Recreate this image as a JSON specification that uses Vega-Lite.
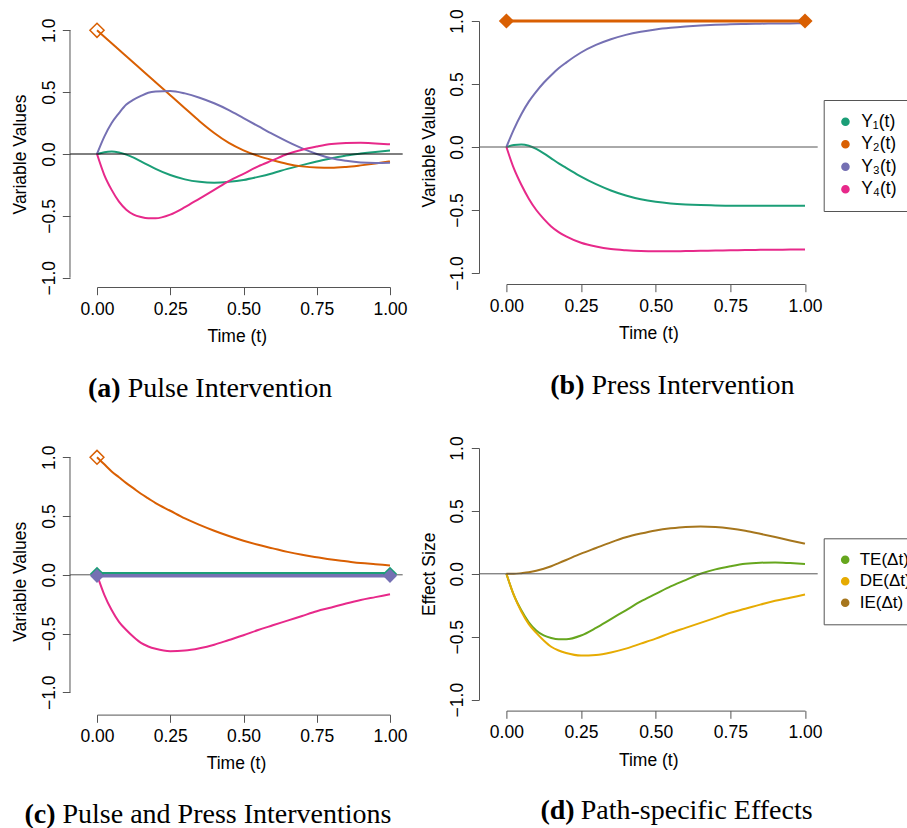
{
"$schema": "https://vega.github.io/schema/vega-lite/v6.json",
"padding": {"left": 11, "top": 8, "right": 0, "bottom": 0},
"background": "white",
"datasets": {
"captions": [
{"p": "a", "tag": "(a)", "cap": "Pulse Intervention"},
{"p": "b", "tag": "(b)", "cap": "Press Intervention"},
{"p": "c", "tag": "(c)", "cap": "Pulse and Press Interventions"},
{"p": "d", "tag": "(d)", "cap": "Path-specific Effects"}
],
"yser": [
{"p": "a", "t": 0, "Y1": 0, "Y2": 1, "Y3": 0, "Y4": 0},
{"p": "a", "t": 0.025, "Y1": 0.015, "Y2": 0.947, "Y3": 0.14, "Y4": -0.17},
{"p": "a", "t": 0.05, "Y1": 0.02, "Y2": 0.895, "Y3": 0.25, "Y4": -0.29},
{"p": "a", "t": 0.075, "Y1": 0.012, "Y2": 0.842, "Y3": 0.33, "Y4": -0.385},
{"p": "a", "t": 0.1, "Y1": -0.005, "Y2": 0.79, "Y3": 0.4, "Y4": -0.45},
{"p": "a", "t": 0.125, "Y1": -0.03, "Y2": 0.737, "Y3": 0.44, "Y4": -0.49},
{"p": "a", "t": 0.15, "Y1": -0.06, "Y2": 0.685, "Y3": 0.47, "Y4": -0.51},
{"p": "a", "t": 0.175, "Y1": -0.09, "Y2": 0.632, "Y3": 0.495, "Y4": -0.52},
{"p": "a", "t": 0.2, "Y1": -0.12, "Y2": 0.58, "Y3": 0.505, "Y4": -0.52},
{"p": "a", "t": 0.25, "Y1": -0.17, "Y2": 0.475, "Y3": 0.51, "Y4": -0.49},
{"p": "a", "t": 0.3, "Y1": -0.205, "Y2": 0.37, "Y3": 0.49, "Y4": -0.43},
{"p": "a", "t": 0.35, "Y1": -0.225, "Y2": 0.265, "Y3": 0.455, "Y4": -0.36},
{"p": "a", "t": 0.4, "Y1": -0.232, "Y2": 0.17, "Y3": 0.41, "Y4": -0.29},
{"p": "a", "t": 0.45, "Y1": -0.225, "Y2": 0.09, "Y3": 0.355, "Y4": -0.22},
{"p": "a", "t": 0.5, "Y1": -0.21, "Y2": 0.03, "Y3": 0.29, "Y4": -0.16},
{"p": "a", "t": 0.55, "Y1": -0.185, "Y2": -0.015, "Y3": 0.225, "Y4": -0.1},
{"p": "a", "t": 0.6, "Y1": -0.155, "Y2": -0.05, "Y3": 0.16, "Y4": -0.05},
{"p": "a", "t": 0.65, "Y1": -0.12, "Y2": -0.08, "Y3": 0.1, "Y4": 0},
{"p": "a", "t": 0.7, "Y1": -0.09, "Y2": -0.1, "Y3": 0.045, "Y4": 0.035},
{"p": "a", "t": 0.75, "Y1": -0.06, "Y2": -0.11, "Y3": 0, "Y4": 0.06},
{"p": "a", "t": 0.8, "Y1": -0.035, "Y2": -0.112, "Y3": -0.035, "Y4": 0.08},
{"p": "a", "t": 0.85, "Y1": -0.012, "Y2": -0.105, "Y3": -0.055, "Y4": 0.088},
{"p": "a", "t": 0.9, "Y1": 0.004, "Y2": -0.092, "Y3": -0.068, "Y4": 0.09},
{"p": "a", "t": 0.95, "Y1": 0.017, "Y2": -0.077, "Y3": -0.072, "Y4": 0.085},
{"p": "a", "t": 1, "Y1": 0.028, "Y2": -0.06, "Y3": -0.07, "Y4": 0.078},
{"p": "b", "t": 0, "Y1": 0, "Y2": 1, "Y3": 0, "Y4": 0},
{"p": "b", "t": 0.025, "Y1": 0.015, "Y2": 1, "Y3": 0.14, "Y4": -0.17},
{"p": "b", "t": 0.05, "Y1": 0.02, "Y2": 1, "Y3": 0.26, "Y4": -0.3},
{"p": "b", "t": 0.075, "Y1": 0.01, "Y2": 1, "Y3": 0.36, "Y4": -0.41},
{"p": "b", "t": 0.1, "Y1": -0.015, "Y2": 1, "Y3": 0.44, "Y4": -0.5},
{"p": "b", "t": 0.125, "Y1": -0.05, "Y2": 1, "Y3": 0.51, "Y4": -0.57},
{"p": "b", "t": 0.15, "Y1": -0.09, "Y2": 1, "Y3": 0.57, "Y4": -0.63},
{"p": "b", "t": 0.175, "Y1": -0.13, "Y2": 1, "Y3": 0.625, "Y4": -0.675},
{"p": "b", "t": 0.2, "Y1": -0.165, "Y2": 1, "Y3": 0.67, "Y4": -0.71},
{"p": "b", "t": 0.25, "Y1": -0.235, "Y2": 1, "Y3": 0.75, "Y4": -0.76},
{"p": "b", "t": 0.3, "Y1": -0.295, "Y2": 1, "Y3": 0.81, "Y4": -0.79},
{"p": "b", "t": 0.35, "Y1": -0.345, "Y2": 1, "Y3": 0.855, "Y4": -0.81},
{"p": "b", "t": 0.4, "Y1": -0.385, "Y2": 1, "Y3": 0.89, "Y4": -0.82},
{"p": "b", "t": 0.45, "Y1": -0.415, "Y2": 1, "Y3": 0.915, "Y4": -0.826},
{"p": "b", "t": 0.5, "Y1": -0.435, "Y2": 1, "Y3": 0.933, "Y4": -0.828},
{"p": "b", "t": 0.55, "Y1": -0.448, "Y2": 1, "Y3": 0.946, "Y4": -0.828},
{"p": "b", "t": 0.6, "Y1": -0.456, "Y2": 1, "Y3": 0.956, "Y4": -0.826},
{"p": "b", "t": 0.65, "Y1": -0.461, "Y2": 1, "Y3": 0.964, "Y4": -0.824},
{"p": "b", "t": 0.7, "Y1": -0.464, "Y2": 1, "Y3": 0.97, "Y4": -0.822},
{"p": "b", "t": 0.75, "Y1": -0.466, "Y2": 1, "Y3": 0.974, "Y4": -0.82},
{"p": "b", "t": 0.8, "Y1": -0.467, "Y2": 1, "Y3": 0.977, "Y4": -0.818},
{"p": "b", "t": 0.85, "Y1": -0.467, "Y2": 1, "Y3": 0.979, "Y4": -0.816},
{"p": "b", "t": 0.9, "Y1": -0.467, "Y2": 1, "Y3": 0.98, "Y4": -0.815},
{"p": "b", "t": 0.95, "Y1": -0.467, "Y2": 1, "Y3": 0.981, "Y4": -0.814},
{"p": "b", "t": 1, "Y1": -0.467, "Y2": 1, "Y3": 0.982, "Y4": -0.813},
{"p": "c", "t": 0, "Y1": 0.008, "Y2": 1, "Y3": -0.009, "Y4": 0},
{"p": "c", "t": 0.025, "Y1": null, "Y2": 0.94, "Y3": null, "Y4": -0.17},
{"p": "c", "t": 0.05, "Y1": null, "Y2": 0.88, "Y3": null, "Y4": -0.3},
{"p": "c", "t": 0.075, "Y1": null, "Y2": 0.83, "Y3": null, "Y4": -0.4},
{"p": "c", "t": 0.1, "Y1": null, "Y2": 0.78, "Y3": null, "Y4": -0.47},
{"p": "c", "t": 0.125, "Y1": null, "Y2": 0.735, "Y3": null, "Y4": -0.53},
{"p": "c", "t": 0.15, "Y1": null, "Y2": 0.69, "Y3": null, "Y4": -0.58},
{"p": "c", "t": 0.175, "Y1": null, "Y2": 0.65, "Y3": null, "Y4": -0.61},
{"p": "c", "t": 0.2, "Y1": null, "Y2": 0.61, "Y3": null, "Y4": -0.63},
{"p": "c", "t": 0.25, "Y1": null, "Y2": 0.545, "Y3": null, "Y4": -0.65},
{"p": "c", "t": 0.3, "Y1": null, "Y2": 0.48, "Y3": null, "Y4": -0.645},
{"p": "c", "t": 0.35, "Y1": null, "Y2": 0.425, "Y3": null, "Y4": -0.625},
{"p": "c", "t": 0.4, "Y1": null, "Y2": 0.375, "Y3": null, "Y4": -0.595},
{"p": "c", "t": 0.45, "Y1": null, "Y2": 0.33, "Y3": null, "Y4": -0.555},
{"p": "c", "t": 0.5, "Y1": null, "Y2": 0.29, "Y3": null, "Y4": -0.515},
{"p": "c", "t": 0.55, "Y1": null, "Y2": 0.255, "Y3": null, "Y4": -0.47},
{"p": "c", "t": 0.6, "Y1": null, "Y2": 0.225, "Y3": null, "Y4": -0.43},
{"p": "c", "t": 0.65, "Y1": null, "Y2": 0.195, "Y3": null, "Y4": -0.39},
{"p": "c", "t": 0.7, "Y1": null, "Y2": 0.17, "Y3": null, "Y4": -0.35},
{"p": "c", "t": 0.75, "Y1": null, "Y2": 0.15, "Y3": null, "Y4": -0.31},
{"p": "c", "t": 0.8, "Y1": null, "Y2": 0.13, "Y3": null, "Y4": -0.278},
{"p": "c", "t": 0.85, "Y1": null, "Y2": 0.115, "Y3": null, "Y4": -0.245},
{"p": "c", "t": 0.9, "Y1": null, "Y2": 0.1, "Y3": null, "Y4": -0.215},
{"p": "c", "t": 0.95, "Y1": null, "Y2": 0.09, "Y3": null, "Y4": -0.19},
{"p": "c", "t": 1, "Y1": 0.008, "Y2": 0.08, "Y3": -0.009, "Y4": -0.165}
],
"effects": [
{"t": 0, "TE": 0, "DE": 0, "IE": 0},
{"t": 0.025, "TE": -0.17, "DE": -0.17, "IE": 0},
{"t": 0.05, "TE": -0.29, "DE": -0.3, "IE": 0.005},
{"t": 0.075, "TE": -0.385, "DE": -0.4, "IE": 0.012},
{"t": 0.1, "TE": -0.45, "DE": -0.47, "IE": 0.025},
{"t": 0.125, "TE": -0.49, "DE": -0.53, "IE": 0.04},
{"t": 0.15, "TE": -0.51, "DE": -0.58, "IE": 0.06},
{"t": 0.175, "TE": -0.52, "DE": -0.61, "IE": 0.085},
{"t": 0.2, "TE": -0.52, "DE": -0.63, "IE": 0.11},
{"t": 0.25, "TE": -0.49, "DE": -0.65, "IE": 0.16},
{"t": 0.3, "TE": -0.43, "DE": -0.645, "IE": 0.205},
{"t": 0.35, "TE": -0.36, "DE": -0.625, "IE": 0.25},
{"t": 0.4, "TE": -0.29, "DE": -0.595, "IE": 0.29},
{"t": 0.45, "TE": -0.22, "DE": -0.555, "IE": 0.32},
{"t": 0.5, "TE": -0.16, "DE": -0.515, "IE": 0.345},
{"t": 0.55, "TE": -0.1, "DE": -0.47, "IE": 0.362},
{"t": 0.6, "TE": -0.05, "DE": -0.43, "IE": 0.373},
{"t": 0.65, "TE": 0, "DE": -0.39, "IE": 0.376},
{"t": 0.7, "TE": 0.035, "DE": -0.35, "IE": 0.372},
{"t": 0.75, "TE": 0.06, "DE": -0.31, "IE": 0.36},
{"t": 0.8, "TE": 0.08, "DE": -0.278, "IE": 0.342},
{"t": 0.85, "TE": 0.088, "DE": -0.245, "IE": 0.318},
{"t": 0.9, "TE": 0.09, "DE": -0.215, "IE": 0.292},
{"t": 0.95, "TE": 0.085, "DE": -0.19, "IE": 0.265},
{"t": 1, "TE": 0.078, "DE": -0.165, "IE": 0.24}
],
"markers": [
{"p": "a", "s": "Y2", "t": 0, "v": 1, "k": "open"},
{"p": "b", "s": "Y2", "t": 0, "v": 1, "k": "filled"},
{"p": "b", "s": "Y2", "t": 1, "v": 1, "k": "filled"},
{"p": "c", "s": "Y2", "t": 0, "v": 1, "k": "open"},
{"p": "c", "s": "Y1", "t": 0, "v": 0.008, "k": "filled"},
{"p": "c", "s": "Y1", "t": 1, "v": 0.008, "k": "filled"},
{"p": "c", "s": "Y3", "t": 0, "v": -0.009, "k": "filled"},
{"p": "c", "s": "Y3", "t": 1, "v": -0.009, "k": "filled"}
]
},
"config": {
"view": {"stroke": null},
"font": "Liberation Sans",
"axis": {"grid": false, "domainColor": "#555555", "tickColor": "#555555", "tickSize": 7.7, "labelFont": "Liberation Sans", "labelFontSize": 17.5, "labelColor": "#000000", "titleFont": "Liberation Sans", "titleFontSize": 17.5, "titleFontWeight": "normal", "titleColor": "#000000"},
"legend": {"labelFont": "Liberation Sans", "labelColor": "#000000"}
},
"concat": [
{
"width": 293, "height": 256.7,
"layer": [
{"data": {"name": "yser"}, "transform": [{"filter": "datum.p == 'a'"}, {"fold": ["Y1", "Y2", "Y3", "Y4"], "as": ["s", "v"]}, {"filter": "isValid(datum.v)"}],
 "mark": {"type": "line", "strokeWidth": 2, "interpolate": "monotone"},
 "encoding": {
  "x": {"field": "t", "type": "quantitative", "scale": {"domain": [0, 1], "nice": false, "zero": false}, "axis": {"title": "Time (t)", "values": [0, 0.25, 0.5, 0.75, 1], "format": ".2f", "offset": 9.3, "labelAngle": 0, "labelAlign": "center", "labelBaseline": "alphabetic", "labelPadding": 19.6, "titleX": 139.7, "titleY": 54.5, "titleBaseline": "alphabetic"}},
  "y": {"field": "v", "type": "quantitative", "scale": {"domain": [-1, 1.0752], "nice": false, "zero": false}, "axis": {"title": "Variable Values", "values": [-1, -0.5, 0, 0.5, 1], "format": ".1f", "offset": 27, "domain": false, "labelAngle": 270, "labelAlign": "center", "labelBaseline": "alphabetic", "labelPadding": 8, "titleX": -44.3, "titleY": 133, "titleBaseline": "alphabetic"}},
  "stroke": {"field": "s", "type": "nominal", "scale": {"domain": ["Y1", "Y2", "Y3", "Y4"], "range": ["#1B9E77", "#D95F02", "#7570B3", "#E7298A"]}, "legend": null}
 }},
{"data": {"name": "captions"}, "transform": [{"filter": "datum.p == 'a'"}],
 "mark": {"type": "rule", "color": "#000000", "strokeWidth": 1}, "encoding": {"x": {"datum": -0.0922, "type": "quantitative"}, "x2": {"datum": 1.0433}, "y": {"datum": 0, "type": "quantitative"}}},
{"data": {"name": "captions"}, "transform": [{"filter": "datum.p == 'a'"}],
 "mark": {"type": "rule", "color": "#555555", "strokeWidth": 1}, "encoding": {"x": {"datum": -0.0922, "type": "quantitative"}, "y": {"datum": -1, "type": "quantitative"}, "y2": {"datum": 1}}},
{"data": {"name": "captions"}, "transform": [{"filter": "datum.p == 'a'"}],
 "mark": {"type": "text", "align": "right", "baseline": "alphabetic", "dx": -3.5, "font": "Liberation Serif", "fontSize": 28, "fontWeight": "bold", "color": "#000000"},
 "encoding": {"x": {"datum": 0.0928, "type": "quantitative"}, "y": {"datum": -1.9645, "type": "quantitative"}, "text": {"field": "tag"}}},
{"data": {"name": "captions"}, "transform": [{"filter": "datum.p == 'a'"}],
 "mark": {"type": "text", "align": "left", "baseline": "alphabetic", "dx": 3.5, "font": "Liberation Serif", "fontSize": 28, "fontWeight": "normal", "color": "#000000"},
 "encoding": {"x": {"datum": 0.0928, "type": "quantitative"}, "y": {"datum": -1.9645, "type": "quantitative"}, "text": {"field": "cap"}}},
{"data": {"name": "markers"}, "transform": [{"filter": "datum.p == 'a'"}],
 "mark": {"type": "point", "shape": "diamond", "filled": false, "size": 200, "strokeWidth": 1.5, "opacity": 1},
 "encoding": {
  "x": {"field": "t", "type": "quantitative"},
  "y": {"field": "v", "type": "quantitative"},
  "stroke": {"field": "s", "type": "nominal", "legend": null}
 }}
]
},
{
"width": 298.6, "height": 252,
"layer": [
{"data": {"name": "yser"}, "transform": [{"filter": "datum.p == 'b'"}, {"fold": ["Y1", "Y2", "Y3", "Y4"], "as": ["s", "v"]}, {"filter": "isValid(datum.v)"}],
 "mark": {"type": "line", "strokeWidth": 2, "interpolate": "monotone"},
 "encoding": {
  "x": {"field": "t", "type": "quantitative", "scale": {"domain": [0, 1], "nice": false, "zero": false}, "axis": {"title": "Time (t)", "values": [0, 0.25, 0.5, 0.75, 1], "format": ".2f", "offset": 11, "labelAngle": 0, "labelAlign": "center", "labelBaseline": "alphabetic", "labelPadding": 19.6, "titleX": 142, "titleY": 54.5, "titleBaseline": "alphabetic"}},
  "y": {"field": "v", "type": "quantitative", "scale": {"domain": [-1, 1], "nice": false, "zero": false}, "axis": {"title": "Variable Values", "values": [-1, -0.5, 0, 0.5, 1], "format": ".1f", "offset": 27.4, "labelAngle": 270, "labelAlign": "center", "labelBaseline": "alphabetic", "labelPadding": 8.5, "titleX": -45, "titleY": 126, "titleBaseline": "alphabetic"}},
  "stroke": {"field": "s", "type": "nominal", "scale": {"domain": ["Y1", "Y2", "Y3", "Y4"], "range": ["#1B9E77", "#D95F02", "#7570B3", "#E7298A"]},
   "legend": {"title": null, "orient": "none", "legendX": 317.3, "legendY": 79, "symbolType": "circle", "symbolSize": 50, "labelFontSize": 17.5, "labelOffset": 7, "padding": 13, "rowPadding": 3.5, "strokeColor": "#555555", "labelExpr": "datum.label == 'Y1' ? 'Y₁(t)' : datum.label == 'Y2' ? 'Y₂(t)' : datum.label == 'Y3' ? 'Y₃(t)' : 'Y₄(t)'",
    "encode": {"symbols": {"update": {"fill": {"signal": "datum.value == 'Y1' ? '#1B9E77' : datum.value == 'Y2' ? '#D95F02' : datum.value == 'Y3' ? '#7570B3' : '#E7298A'"}}}}}}
 }},
{"data": {"name": "yser"}, "transform": [{"filter": "datum.p == 'b'"}],
 "mark": {"type": "line", "strokeWidth": 3, "color": "#D95F02"},
 "encoding": {"x": {"field": "t", "type": "quantitative"}, "y": {"field": "Y2", "type": "quantitative"}}},
{"data": {"name": "captions"}, "transform": [{"filter": "datum.p == 'b'"}],
 "mark": {"type": "rule", "color": "#555555", "strokeWidth": 1}, "encoding": {"x": {"datum": -0.0918, "type": "quantitative"}, "x2": {"datum": 1.0425}, "y": {"datum": 0, "type": "quantitative"}}},
{"data": {"name": "captions"}, "transform": [{"filter": "datum.p == 'b'"}],
 "mark": {"type": "text", "align": "right", "baseline": "alphabetic", "dx": -3.5, "font": "Liberation Serif", "fontSize": 28, "fontWeight": "bold", "color": "#000000"},
 "encoding": {"x": {"datum": 0.2733, "type": "quantitative"}, "y": {"datum": -1.96, "type": "quantitative"}, "text": {"field": "tag"}}},
{"data": {"name": "captions"}, "transform": [{"filter": "datum.p == 'b'"}],
 "mark": {"type": "text", "align": "left", "baseline": "alphabetic", "dx": 3.5, "font": "Liberation Serif", "fontSize": 28, "fontWeight": "normal", "color": "#000000"},
 "encoding": {"x": {"datum": 0.2733, "type": "quantitative"}, "y": {"datum": -1.96, "type": "quantitative"}, "text": {"field": "cap"}}},
{"data": {"name": "markers"}, "transform": [{"filter": "datum.p == 'b'"}],
 "mark": {"type": "point", "shape": "diamond", "filled": true, "size": 230, "strokeWidth": 0, "opacity": 1, "color": "#D95F02"},
 "encoding": {
  "x": {"field": "t", "type": "quantitative"},
  "y": {"field": "v", "type": "quantitative"}
 }}
]
},
{
"width": 293, "height": 244.3,
"layer": [
{"data": {"name": "yser"}, "transform": [{"filter": "datum.p == 'c'"}, {"fold": ["Y1", "Y2", "Y3", "Y4"], "as": ["s", "v"]}, {"filter": "isValid(datum.v)"}],
 "mark": {"type": "line", "strokeWidth": 2, "interpolate": "monotone"},
 "encoding": {
  "x": {"field": "t", "type": "quantitative", "scale": {"domain": [0, 1], "nice": false, "zero": false}, "axis": {"title": "Time (t)", "values": [0, 0.25, 0.5, 0.75, 1], "format": ".2f", "offset": 22.3, "labelAngle": 0, "labelAlign": "center", "labelBaseline": "alphabetic", "labelPadding": 19.6, "titleX": 139, "titleY": 54, "titleBaseline": "alphabetic"}},
  "y": {"field": "v", "type": "quantitative", "scale": {"domain": [-1, 1.0791], "nice": false, "zero": false}, "axis": {"title": "Variable Values", "values": [-1, -0.5, 0, 0.5, 1], "format": ".1f", "offset": 27, "domain": false, "labelAngle": 270, "labelAlign": "center", "labelBaseline": "alphabetic", "labelPadding": 8, "titleX": -44.3, "titleY": 133.3, "titleBaseline": "alphabetic"}},
  "stroke": {"field": "s", "type": "nominal", "scale": {"domain": ["Y1", "Y2", "Y3", "Y4"], "range": ["#1B9E77", "#D95F02", "#7570B3", "#E7298A"]}, "legend": null}
 }},
{"data": {"name": "captions"}, "transform": [{"filter": "datum.p == 'c'"}],
 "mark": {"type": "rule", "color": "#555555", "strokeWidth": 1}, "encoding": {"x": {"datum": -0.0922, "type": "quantitative"}, "x2": {"datum": 1.0433}, "y": {"datum": 0, "type": "quantitative"}}},
{"data": {"name": "captions"}, "transform": [{"filter": "datum.p == 'c'"}],
 "mark": {"type": "rule", "color": "#555555", "strokeWidth": 1}, "encoding": {"x": {"datum": -0.0922, "type": "quantitative"}, "y": {"datum": -1, "type": "quantitative"}, "y2": {"datum": 1}}},
{"data": {"name": "yser"}, "transform": [{"filter": "datum.p == 'c'"}, {"fold": ["Y1", "Y3"], "as": ["s", "v"]}, {"filter": "isValid(datum.v)"}],
 "mark": {"type": "line", "strokeWidth": 3.5},
 "encoding": {
  "x": {"field": "t", "type": "quantitative"},
  "y": {"field": "v", "type": "quantitative"},
  "stroke": {"field": "s", "type": "nominal", "legend": null}
 }},
{"data": {"name": "captions"}, "transform": [{"filter": "datum.p == 'c'"}],
 "mark": {"type": "text", "align": "right", "baseline": "alphabetic", "dx": -3.5, "font": "Liberation Serif", "fontSize": 28, "fontWeight": "bold", "color": "#000000"},
 "encoding": {"x": {"datum": -0.1297, "type": "quantitative"}, "y": {"datum": -2.112, "type": "quantitative"}, "text": {"field": "tag"}}},
{"data": {"name": "captions"}, "transform": [{"filter": "datum.p == 'c'"}],
 "mark": {"type": "text", "align": "left", "baseline": "alphabetic", "dx": 3.5, "font": "Liberation Serif", "fontSize": 28, "fontWeight": "normal", "color": "#000000"},
 "encoding": {"x": {"datum": -0.1297, "type": "quantitative"}, "y": {"datum": -2.112, "type": "quantitative"}, "text": {"field": "cap"}}},
{"data": {"name": "markers"}, "transform": [{"filter": "datum.p == 'c' && datum.k == 'open'"}],
 "mark": {"type": "point", "shape": "diamond", "filled": false, "size": 190, "strokeWidth": 1.5, "opacity": 1},
 "encoding": {
  "x": {"field": "t", "type": "quantitative"},
  "y": {"field": "v", "type": "quantitative"},
  "stroke": {"field": "s", "type": "nominal", "legend": null}
 }},
{"data": {"name": "markers"}, "transform": [{"filter": "datum.p == 'c' && datum.k == 'filled'"}],
 "mark": {"type": "point", "shape": "diamond", "filled": true, "size": 200, "strokeWidth": 0, "opacity": 1},
 "encoding": {
  "x": {"field": "t", "type": "quantitative"},
  "y": {"field": "v", "type": "quantitative"},
  "fill": {"field": "s", "type": "nominal", "scale": {"domain": ["Y1", "Y2", "Y3", "Y4"], "range": ["#1B9E77", "#D95F02", "#7570B3", "#E7298A"]}, "legend": null}
 }}
]
},
{
"width": 298.6, "height": 251.6,
"layer": [
{"data": {"name": "effects"}, "transform": [{"fold": ["TE", "DE", "IE"], "as": ["s", "v"]}],
 "mark": {"type": "line", "strokeWidth": 2, "interpolate": "monotone"},
 "encoding": {
  "x": {"field": "t", "type": "quantitative", "scale": {"domain": [0, 1], "nice": false, "zero": false}, "axis": {"title": "Time (t)", "values": [0, 0.25, 0.5, 0.75, 1], "format": ".2f", "offset": 11, "labelAngle": 0, "labelAlign": "center", "labelBaseline": "alphabetic", "labelPadding": 19.6, "titleX": 141.8, "titleY": 55, "titleBaseline": "alphabetic"}},
  "y": {"field": "v", "type": "quantitative", "scale": {"domain": [-1, 1], "nice": false, "zero": false}, "axis": {"title": "Effect Size", "values": [-1, -0.5, 0, 0.5, 1], "format": ".1f", "offset": 27.4, "labelAngle": 270, "labelAlign": "center", "labelBaseline": "alphabetic", "labelPadding": 8.5, "titleX": -45, "titleY": 125.8, "titleBaseline": "alphabetic"}},
  "stroke": {"field": "s", "type": "nominal", "scale": {"domain": ["TE", "DE", "IE"], "range": ["#66A61E", "#E6AB02", "#A6761D"]},
   "legend": {"title": null, "orient": "none", "legendX": 317.3, "legendY": 90.3, "symbolType": "circle", "symbolSize": 50, "labelFontSize": 17, "labelOffset": 6, "padding": 13, "rowPadding": 3.5, "strokeColor": "#555555", "labelExpr": "datum.label + '(Δt)'",
    "encode": {"symbols": {"update": {"fill": {"signal": "datum.value == 'TE' ? '#66A61E' : datum.value == 'DE' ? '#E6AB02' : '#A6761D'"}}}}}}
 }},
{"data": {"name": "captions"}, "transform": [{"filter": "datum.p == 'd'"}],
 "mark": {"type": "rule", "color": "#555555", "strokeWidth": 1}, "encoding": {"x": {"datum": -0.0918, "type": "quantitative"}, "x2": {"datum": 1.0425}, "y": {"datum": 0, "type": "quantitative"}}},
{"data": {"name": "captions"}, "transform": [{"filter": "datum.p == 'd'"}],
 "mark": {"type": "text", "align": "right", "baseline": "alphabetic", "dx": -3, "font": "Liberation Serif", "fontSize": 28, "fontWeight": "bold", "color": "#000000"},
 "encoding": {"x": {"datum": 0.2388, "type": "quantitative"}, "y": {"datum": -1.9515, "type": "quantitative"}, "text": {"field": "tag"}}},
{"data": {"name": "captions"}, "transform": [{"filter": "datum.p == 'd'"}],
 "mark": {"type": "text", "align": "left", "baseline": "alphabetic", "dx": 3, "font": "Liberation Serif", "fontSize": 28, "fontWeight": "normal", "color": "#000000"},
 "encoding": {"x": {"datum": 0.2388, "type": "quantitative"}, "y": {"datum": -1.9515, "type": "quantitative"}, "text": {"field": "cap"}}}
]
}
],
"columns": 2,
"align": "each",
"bounds": "flush",
"spacing": {"row": 170, "column": 116.4},
"resolve": {"scale": {"x": "independent", "y": "independent", "stroke": "independent", "fill": "independent"}, "legend": {"stroke": "independent", "fill": "independent"}}
}
